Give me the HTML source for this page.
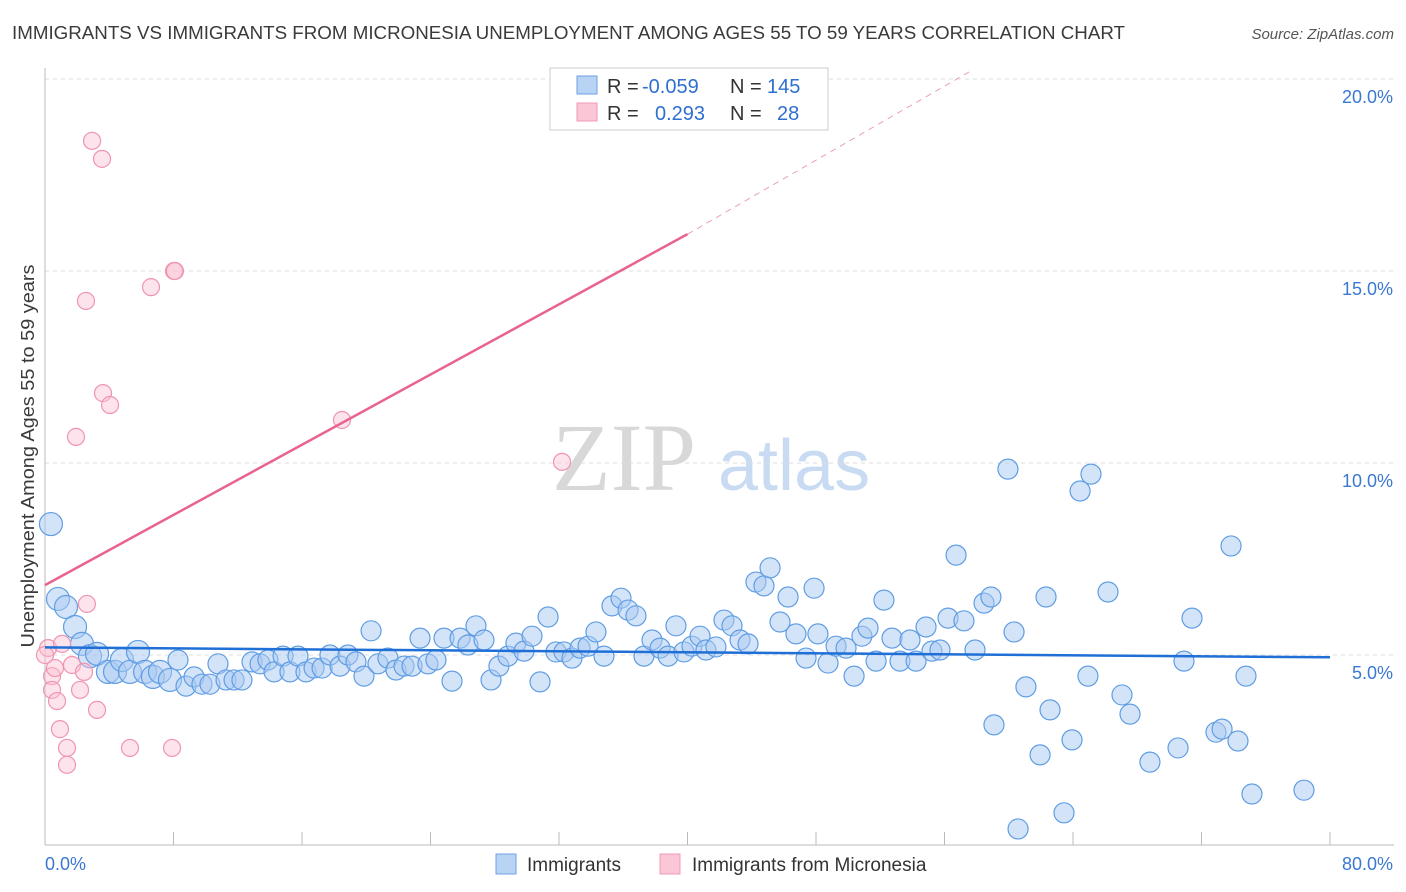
<!DOCTYPE html>
<html><head><meta charset="utf-8"><style>
body{margin:0;background:#fff;font-family:"Liberation Sans",sans-serif;}
svg{display:block}
</style></head><body>
<svg id="chart" width="1406" height="892" xmlns="http://www.w3.org/2000/svg" font-family="Liberation Sans, sans-serif">
<text x="12" y="39" font-size="18" fill="#3a3a3a" textLength="1113" lengthAdjust="spacingAndGlyphs">IMMIGRANTS VS IMMIGRANTS FROM MICRONESIA UNEMPLOYMENT AMONG AGES 55 TO 59 YEARS CORRELATION CHART</text>
<text x="1394" y="39" font-size="15" fill="#555" font-style="italic" text-anchor="end">Source: ZipAtlas.com</text>
<g>
<text x="552" y="490" font-size="96" fill="#d8d8d8" font-family="Liberation Serif, serif">ZIP</text>
<text x="718" y="490" font-size="72" fill="#c9dbf2">atlas</text>
</g>
<g id="grid"></g>
<g id="axes"></g>
<g id="pts"></g>
<g id="trends"></g>
<text transform="translate(34,456) rotate(-90)" font-size="18" fill="#3a3a3a" text-anchor="middle" textLength="383" lengthAdjust="spacingAndGlyphs">Unemployment Among Ages 55 to 59 years</text>
<g>
<rect x="550" y="68" width="278" height="62" fill="#fff" stroke="#ccc"/>
<rect x="577" y="76" width="20" height="18" fill="#b8d3f4" stroke="#6da2e4"/>
<rect x="577" y="103" width="20" height="18" fill="#fbc6d6" stroke="#f09ab4"/>
<text x="607" y="93" font-size="20" fill="#333">R = <tspan x="642" fill="#2f6fd0">-0.059</tspan><tspan x="730">N = </tspan><tspan x="767" fill="#2f6fd0">145</tspan></text>
<text x="607" y="120" font-size="20" fill="#333">R = <tspan x="655" fill="#2f6fd0">0.293</tspan><tspan x="730">N = </tspan><tspan x="777" fill="#2f6fd0">28</tspan></text>
</g>
<g>
<rect x="496" y="854" width="20" height="20" fill="#b8d3f4" stroke="#6da2e4"/>
<text x="527" y="871" font-size="19" fill="#333">Immigrants</text>
<rect x="660" y="854" width="20" height="20" fill="#fbc6d6" stroke="#f09ab4"/>
<text x="692" y="871" font-size="19" fill="#333">Immigrants from Micronesia</text>
</g>
</svg>
<script>
const NS="http://www.w3.org/2000/svg";
const yTicks=[5,10,15,20];
const yTickLabels=["5.0%","10.0%","15.0%","20.0%"];
const xEndLabels=["0.0%","80.0%"];
const bluePx=[[51,524],[58,599],[66,607],[75,627],[82,644],[90,656],[97,654],[108,672],[115,672],[122,660],[130,672],[138,652],[145,672],[153,677],[160,672],[170,680],[178,660],[186,686],[194,677],[202,684],[210,684],[218,664],[226,680],[234,680],[242,680],[252,662],[260,664],[268,660],[274,672],[283,656],[290,672],[298,656],[306,672],[314,668],[322,668],[330,655],[340,666],[348,655],[356,662],[364,676],[371,631],[378,664],[388,658],[396,670],[404,666],[412,666],[420,638],[428,664],[436,660],[444,638],[452,681],[460,638],[468,645],[476,626],[484,640],[491,680],[499,666],[508,656],[516,643],[524,651],[532,636],[540,682],[548,617],[556,652],[564,652],[572,658],[580,648],[588,646],[596,632],[604,656],[612,606],[621,598],[628,610],[636,616],[644,656],[652,640],[660,648],[668,656],[676,626],[684,652],[692,646],[700,636],[706,650],[716,647],[724,620],[732,626],[740,640],[748,644],[756,582],[764,586],[770,568],[780,622],[788,597],[796,634],[806,658],[814,588],[818,634],[828,663],[836,646],[846,648],[854,676],[862,636],[868,628],[876,661],[884,600],[892,638],[900,661],[910,640],[916,661],[926,627],[932,651],[940,650],[948,618],[956,555],[964,621],[975,650],[984,603],[991,597],[994,725],[1008,469],[1014,632],[1018,829],[1026,687],[1040,755],[1046,597],[1050,710],[1064,813],[1072,740],[1080,491],[1088,676],[1091,474],[1108,592],[1122,695],[1130,714],[1150,762],[1178,748],[1184,661],[1192,618],[1216,732],[1222,729],[1231,546],[1238,741],[1246,676],[1252,794],[1304,790]];
const pinkPx=[[48,648],[52,676],[55,668],[52,690],[57,701],[60,729],[62,644],[67,748],[67,765],[72,665],[80,690],[84,672],[87,604],[76,437],[86,301],[92,141],[102,159],[103,393],[110,405],[97,710],[130,748],[151,287],[174,271],[175,271],[172,748],[342,420],[562,462],[45,655]];
const blueX=bluePx.map(p=>+((p[0]-45)*80/1285).toFixed(2));
const blueY=bluePx.map(p=>+((847-p[1])/38.4).toFixed(2));
const pinkX=pinkPx.map(p=>+((p[0]-45)*80/1285).toFixed(2));
const pinkY=pinkPx.map(p=>+((847-p[1])/38.4).toFixed(2));
const blueTrend=[[0,5.2],[80,4.94]];
const pinkTrend=[[0,6.82],[40,15.96],[57.6,20.2]];
const X0=45,X1=1330,Y0=847,PY=38.4;
const sx=v=>X0+v*(X1-X0)/80, sy=v=>Y0-v*PY;
function mk(tag,attrs,parent){const e=document.createElementNS(NS,tag);for(const k in attrs)e.setAttribute(k,attrs[k]);parent.appendChild(e);return e;}
const grid=document.getElementById('grid'),axes=document.getElementById('axes');
yTicks.forEach((t,i)=>{
 const l=mk('line',{x1:45,x2:1394,y1:sy(t),y2:sy(t),stroke:'#ddd','stroke-dasharray':'4,4'},grid);
 
 
 const tx=mk('text',{x:1393,y:sy(t)+24,'font-size':18,fill:'#3a78d2','text-anchor':'end'},axes);
 tx.textContent=yTickLabels[i];
 
 
});
const la=mk('line',{x1:45,x2:45,y1:68,y2:845,stroke:'#bbb'},axes);


const lb=mk('line',{x1:45,x2:1394,y1:845,y2:845,stroke:'#bbb'},axes);


for(let i=0;i<=10;i++){const t=mk('line',{x1:sx(i*8),x2:sx(i*8),y1:832,y2:845,stroke:'#bbb'},axes);
 
 }
const xl0=mk('text',{x:45,y:870,'font-size':18,fill:'#3a78d2'},axes);xl0.textContent=xEndLabels[0];


const xl1=mk('text',{x:1393,y:870,'font-size':18,fill:'#3a78d2','text-anchor':'end'},axes);xl1.textContent=xEndLabels[1];


const pts=document.getElementById('pts');
blueX.forEach((x,i)=>{const c=mk('circle',{cx:sx(x),cy:sy(blueY[i]),r:x<8?11.5:10,fill:'rgba(170,202,242,0.5)',stroke:'#5f9de4','stroke-width':1.2},pts);
 
 });
pinkX.forEach((x,i)=>{const c=mk('circle',{cx:sx(x),cy:sy(pinkY[i]),r:8.5,fill:'rgba(250,192,210,0.45)',stroke:'#f094b0','stroke-width':1.2},pts);
 
 });
const tr=document.getElementById('trends');
const bt=mk('line',{x1:sx(blueTrend[0][0]),y1:sy(blueTrend[0][1]),x2:sx(blueTrend[1][0]),y2:sy(blueTrend[1][1]),stroke:'#1f6fd6','stroke-width':2.5},tr);


const pt=mk('line',{x1:sx(pinkTrend[0][0]),y1:sy(pinkTrend[0][1]),x2:sx(pinkTrend[1][0]),y2:sy(pinkTrend[1][1]),stroke:'#e8648f','stroke-width':2.5},tr);


const pd=mk('line',{x1:sx(pinkTrend[1][0]),y1:sy(pinkTrend[1][1]),x2:sx(pinkTrend[2][0]),y2:sy(pinkTrend[2][1]),stroke:'#eaa0b8','stroke-width':1,'stroke-dasharray':'6,5'},tr);


</script>
</body></html>
